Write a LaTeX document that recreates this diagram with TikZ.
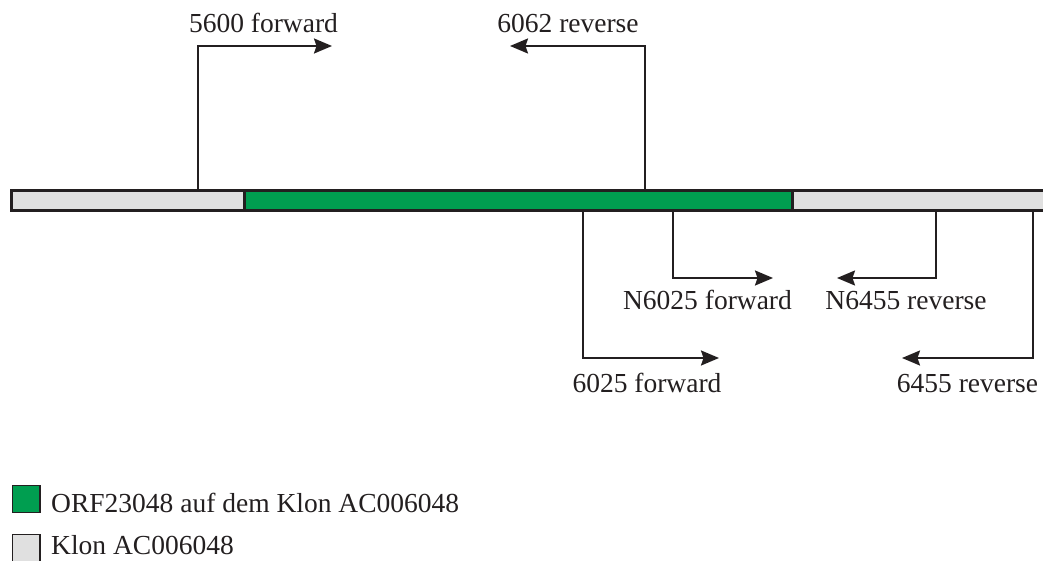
\documentclass[tikz,border=0pt]{standalone}
\usepackage{fontspec}
\setmainfont{Liberation Serif}
\usetikzlibrary{arrows.meta}
\definecolor{orfgreen}{RGB}{0,158,80}
\definecolor{klongrey}{RGB}{224,224,224}
\definecolor{ink}{RGB}{35,31,32}
\tikzset{
  barline/.style={draw=ink, line width=3pt},
  primer/.style={draw=ink, line width=2pt, -{Stealth[length=18pt,width=15pt,inset=2.5pt]}},
  lbl/.style={inner sep=0pt, anchor=base, text=ink, font=\fontsize{27.5}{33}\selectfont},
  leg/.style={inner sep=0pt, anchor=base west, text=ink, font=\fontsize{27.5}{33}\selectfont},
  legbox/.style={draw=ink, line width=1.8pt}
}
\begin{document}
\begin{tikzpicture}[x=1pt,y=-1pt]
\useasboundingbox (0,0) rectangle (1043,561);
% bar
\fill[klongrey] (11.5,191) rectangle (1050,211);
\fill[orfgreen] (244,191) rectangle (792,211);
\draw[barline] (1050,191) -- (11.5,191) -- (11.5,211) -- (1050,211);
\draw[barline] (244,191) -- (244,211);
\draw[barline] (792,191) -- (792,211);
% primer coordinates
\coordinate (s5600) at (198,190);
\coordinate (e5600) at (332,46);
\coordinate (s6062) at (645,190);
\coordinate (e6062) at (510,46);
\coordinate (s6025) at (583,212);
\coordinate (e6025) at (719,358);
\coordinate (sN6025) at (673,212);
\coordinate (eN6025) at (773,278);
\coordinate (sN6455) at (936,212);
\coordinate (eN6455) at (837,278);
\coordinate (s6455) at (1033,212);
\coordinate (e6455) at (902,358);
\draw[primer] (s5600) |- (e5600);
\draw[primer] (s6062) |- (e6062);
\draw[primer] (s6025) |- (e6025);
\draw[primer] (sN6025) |- (eN6025);
\draw[primer] (sN6455) |- (eN6455);
\draw[primer] (s6455) |- (e6455);
% labels
\node[lbl] (l5600) at (263.5,33) {5600 forward};
\node[lbl] (l6062) at (568,33) {6062 reverse};
\node[lbl] (lN6025) at (707.5,309) {N6025 forward};
\node[lbl] (lN6455) at (906,309) {N6455 reverse};
\node[lbl] (l6025) at (647,392) {6025 forward};
\node[lbl] (l6455) at (967.5,392) {6455 reverse};
% legend
\filldraw[legbox, fill=orfgreen] (12.5,485.5) rectangle (40,512.5);
\node[leg] (legorf) at (51,512) {ORF23048 auf dem Klon AC006048};
\filldraw[legbox, fill=klongrey] (12.5,534.5) rectangle (40,561.5);
\node[leg] (legklon) at (51,554) {Klon AC006048};
\end{tikzpicture}
\end{document}
